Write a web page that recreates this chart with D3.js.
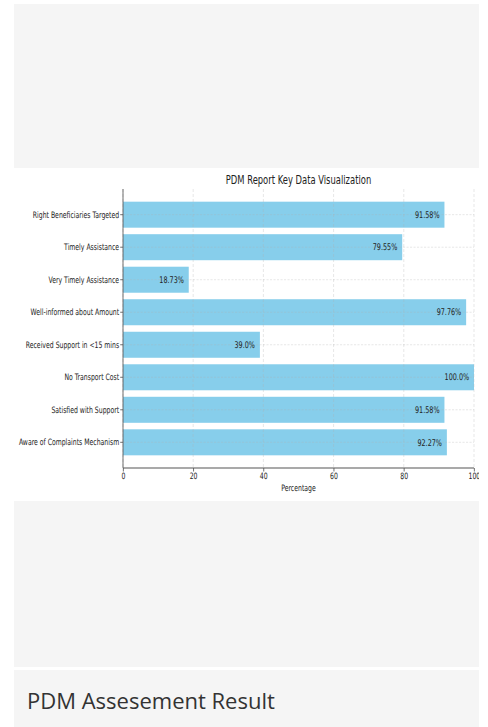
<!DOCTYPE html>
<html>
<head>
<meta charset="utf-8">
<script src="https://cdn.jsdelivr.net/npm/d3@7"></script>
<style>
  html, body { margin: 0; padding: 0; background: #ffffff; }
  svg { display: block; }
</style>
</head>
<body>
<svg id="page" width="488" height="727"></svg>
<script>
const categories = [
  "Right Beneficiaries Targeted",
  "Timely Assistance",
  "Very Timely Assistance",
  "Well-informed about Amount",
  "Received Support in <15 mins",
  "No Transport Cost",
  "Satisfied with Support",
  "Aware of Complaints Mechanism"
];
const values = [91.58, 79.55, 18.73, 97.76, 39.0, 100.0, 91.58, 92.27];
const valueLabels = ["91.58%", "79.55%", "18.73%", "97.76%", "39.0%", "100.0%", "91.58%", "92.27%"];
const xTicks = [0, 20, 40, 60, 80, 100];
const chartTitle = "PDM Report Key Data Visualization";
const xAxisTitle = "Percentage";
const sectionTitle = "PDM Assesement Result";

(function () {
const page = d3.select("#page");

// page panels
page.append("rect").attr("x", 14).attr("y", 4).attr("width", 465).attr("height", 164).attr("fill", "#f5f5f5");
page.append("rect").attr("x", 14).attr("y", 168).attr("width", 465).attr("height", 333).attr("fill", "#ffffff");
page.append("rect").attr("x", 14).attr("y", 501).attr("width", 465).attr("height", 166).attr("fill", "#f5f5f5");
page.append("rect").attr("x", 14).attr("y", 670).attr("width", 465).attr("height", 70).attr("fill", "#f5f5f5");
page.append("text")
  .attr("x", 27).attr("y", 709)
  .attr("font-family", "'Open Sans', sans-serif")
  .attr("font-size", 22)
  .attr("fill", "#333333")
  .text(sectionTitle);

// chart image: rendered wider, then squeezed horizontally into the panel
const sx = 0.7;
const boxW = 465, boxH = 333;
const vbW = boxW / sx;
const chart = page.append("svg")
  .attr("x", 14).attr("y", 168)
  .attr("width", boxW).attr("height", boxH)
  .attr("viewBox", `0 0 ${vbW} ${boxH}`)
  .attr("preserveAspectRatio", "none");

const pLeft = (123 - 14) / sx, pRight = (474 - 14) / sx;
const pTop = 21, pBottom = 300;

const x = d3.scaleLinear().domain([0, 100]).range([pLeft, pRight]);
const y = d3.scaleBand().domain(categories).range([pTop, pBottom]).paddingInner(0.2).paddingOuter(0.39);

const font = "'DejaVu Sans', sans-serif";

// bars
chart.append("g").selectAll("rect")
  .data(categories)
  .join("rect")
  .attr("x", x(0))
  .attr("y", d => y(d))
  .attr("width", (d, i) => x(values[i]) - x(0))
  .attr("height", y.bandwidth())
  .attr("fill", "#87ceeb");

// grid (above bars, faint dashed)
const grid = chart.append("g").attr("stroke", "#b0b0b0").attr("stroke-dasharray", "3,2").attr("stroke-opacity", 0.45).attr("stroke-width", 0.8);
grid.selectAll("line.v").data(xTicks).join("line").attr("class", "v")
  .attr("x1", d => x(d)).attr("x2", d => x(d)).attr("y1", pTop).attr("y2", pBottom);
grid.selectAll("line.h").data(categories).join("line").attr("class", "h")
  .attr("x1", pLeft).attr("x2", pRight)
  .attr("y1", d => y(d) + y.bandwidth() / 2).attr("y2", d => y(d) + y.bandwidth() / 2);

// value labels
chart.append("g").selectAll("text")
  .data(categories)
  .join("text")
  .attr("x", (d, i) => x(values[i]) - 7)
  .attr("y", d => y(d) + y.bandwidth() / 2)
  .attr("dy", "0.35em")
  .attr("text-anchor", "end")
  .attr("font-family", font)
  .attr("font-size", 9.2)
  .attr("fill", "#222")
  .text((d, i) => valueLabels[i]);

// axes
const xAxis = chart.append("g")
  .attr("transform", `translate(0,${pBottom})`)
  .call(d3.axisBottom(x).tickValues(xTicks).tickFormat(d3.format("d")).tickSize(3.5).tickPadding(1.5));
const yAxis = chart.append("g")
  .attr("transform", `translate(${pLeft},0)`)
  .call(d3.axisLeft(y).tickSize(4).tickPadding(1.5));
[xAxis, yAxis].forEach(a => {
  a.select(".domain").attr("stroke", "#555").attr("stroke-width", 1.2);
  a.selectAll(".tick line").attr("stroke", "#555");
  a.selectAll(".tick text").attr("font-family", font).attr("font-size", 8.8).attr("fill", "#222");
});
xAxis.select(".domain").attr("d", `M${pLeft},0H${pRight}`);
yAxis.select(".domain").attr("d", `M0,${pTop}V${pBottom}`);

// titles
chart.append("text")
  .attr("x", (pLeft + pRight) / 2).attr("y", 16)
  .attr("text-anchor", "middle")
  .attr("font-family", font).attr("font-size", 12).attr("fill", "#222")
  .text(chartTitle);
chart.append("text")
  .attr("x", (pLeft + pRight) / 2).attr("y", 323.5)
  .attr("text-anchor", "middle")
  .attr("font-family", font).attr("font-size", 8.8).attr("fill", "#222")
  .text(xAxisTitle);
})();
</script>
</body>
</html>
